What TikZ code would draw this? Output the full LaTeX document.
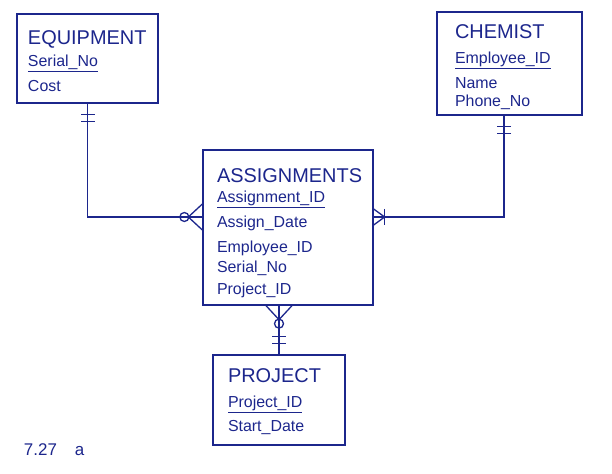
\documentclass[tikz,border=0pt]{standalone}
\usepackage{fontspec}
\setmainfont{Liberation Sans}
\usetikzlibrary{positioning}
\definecolor{ink}{RGB}{28,38,140}
\newcommand{\ename}[1]{{\fontsize{20}{22}\selectfont #1}}
\newcommand{\ekey}[1]{\underline{#1}}

\tikzset{
  onebar/.pic={\draw (11,-7) -- (11,7); \draw (18,-7) -- (18,7);},
  onemany/.pic={\draw (0,-8) -- (11,0) -- (0,8); \draw (11,-8) -- (11,8);},
  zeromany/.pic={\draw (0,-13) -- (14,0) -- (0,13); \draw (18,0) circle (4.5);}
}

\begin{document}
\begin{tikzpicture}[x=1bp, y=-1bp, color=ink, line width=1.3bp,
    entity/.style={draw, inner sep=0pt},
    attrs/.style={align=left, inner sep=0pt, font=\fontsize{16}{22}\selectfont}]
    \useasboundingbox (0,0) rectangle (612,474);

    % entity boxes
    \node [entity, minimum width=141bp, minimum height=89bp]  (equip)  at (87.5,58.5) {};
    \node [entity, minimum width=145bp, minimum height=103bp] (chem)   at (509.5,63.5) {};
    \node [entity, minimum width=170bp, minimum height=155bp] (assign) at (288,227.5) {};
    \node [entity, minimum width=132bp, minimum height=90bp]  (proj)   at (279,400) {};

    % names and attributes
    \node [attrs, below right=17bp and 11bp of equip.north west] (equiptxt)
        {\ename{EQUIPMENT}\\ \ekey{Serial\_No}\\[3bp] Cost};
    \node [attrs, below right=13bp and 18bp of chem.north west] (chemtxt)
        {\ename{CHEMIST}\\[3bp] \ekey{Employee\_ID}\\[3bp] Name\\[-4bp] Phone\_No};
    \node [attrs, below right=19bp and 14bp of assign.north west] (assigntxt)
        {\ename{ASSIGNMENTS}\\[-2bp] \ekey{Assignment\_ID}\\[3bp] Assign\_Date\\[3bp] Employee\_ID\\[-2bp] Serial\_No\\ Project\_ID};
    \node [attrs, below right=14bp and 15bp of proj.north west] (projtxt)
        {\ename{PROJECT}\\[3bp] \ekey{Project\_ID}\\[2bp] Start\_Date};

    % relationships
    \coordinate (row) at (0,217);
    \draw (equip.south) |- (assign.west |- row);
    \draw ([xshift=-5.5bp]chem.south) |- (assign.east |- row);
    \draw (assign.south -| proj.north) -- (proj.north);

    \pic [rotate=-90] at (equip.south) {onebar};
    \pic [rotate=-90] at ([xshift=-5.5bp]chem.south) {onebar};
    \pic [rotate=90]  at (proj.north) {onebar};
    \pic [rotate=180] at (assign.west |- row) {zeromany};
    \pic [rotate=-90] at (assign.south -| proj.north) {zeromany};
    \pic at (assign.east |- row) {onemany};

    \node [anchor=base west, font=\fontsize{17}{19}\selectfont] (tag) at (20,455) {7.27\hspace{18bp}a};
\end{tikzpicture}
\end{document}
